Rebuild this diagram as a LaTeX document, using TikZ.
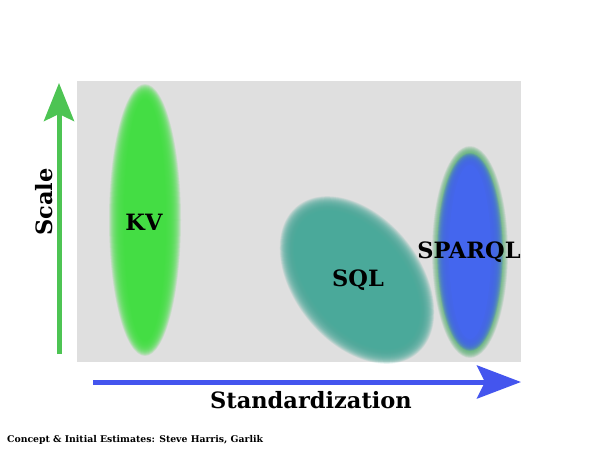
\documentclass[tikz,border=0pt]{standalone}
\usepackage{fontspec}
\setmainfont{DejaVu Serif}
\usepackage{xcolor}
\definecolor{PlotGray}{HTML}{DFDFDF}
\definecolor{KVGreen}{HTML}{44DD44}
\definecolor{SQLTeal}{HTML}{4AA99A}
\definecolor{SparqlBlue}{HTML}{4466EE}
\definecolor{SparqlRim}{HTML}{55B070}
\definecolor{ScaleGreen}{HTML}{4DC453}
\definecolor{StdBlue}{HTML}{4455EE}
\usepackage{tikz}
\usetikzlibrary{arrows.meta, positioning}

\begin{document}
\begin{tikzpicture}[
    x=1pt, y=-1pt,
    scale_arrow/.style={-{Stealth[length=38pt, width=30pt, inset=7pt]}, line width=5pt, ScaleGreen},
    std_arrow/.style={-{Stealth[length=44pt, width=33pt, inset=8pt]}, line width=5pt, StdBlue},
    blob_label/.style={font=\fontsize{22.5}{26}\selectfont\bfseries},
    axis_label/.style={font=\fontsize{22.5}{26}\selectfont\bfseries}
]
    \useasboundingbox (0,0) rectangle (600,450);

    % 1. PLOT AREA
    \fill[PlotGray] (77,81) rectangle (521,362);

    % 2. BLOBS (soft edges from stacked ellipses)
    \foreach \d in {20,19.5,...,0} {
        \fill[KVGreen, fill opacity=0.1] (145,220) ellipse [x radius={(36-\d)*1pt}, y radius={(136-\d)*1pt}];
    }
    \fill[KVGreen] (145,220) ellipse [x radius=16pt, y radius=116pt];

    \foreach \d in {22,21.5,...,0} {
        \fill[SQLTeal, fill opacity=0.1, rotate around={-51:(357,280)}] (357,280) ellipse [x radius={(95-\d)*1pt}, y radius={(63-\d)*1pt}];
    }
    \fill[SQLTeal, rotate around={-51:(357,280)}] (357,280) ellipse [x radius=73pt, y radius=41pt];

    \foreach \d in {16,15.5,...,0} {
        \fill[SparqlRim, fill opacity=0.1] (470,252) ellipse [x radius={(38-\d)*1pt}, y radius={(106-\d)*1pt}];
    }
    \foreach \d in {12,11.5,...,0} {
        \fill[SparqlBlue, fill opacity=0.15] (470,252) ellipse [x radius={(33-\d)*1pt}, y radius={(99-\d)*1pt}];
    }
    \fill[SparqlBlue] (470,252) ellipse [x radius=21pt, y radius=87pt];

    \node[blob_label] (kv) at (144,222) {KV};
    \node[blob_label] (sql) at (358,280) {SQL};
    \node[blob_label] (sparql) at (469,252) {SPARQL};

    % 3. AXES
    \coordinate (scale_start) at (59,354);
    \coordinate (scale_end) at (59,83);
    \coordinate (std_start) at (93,382);
    \coordinate (std_end) at (521,382);
    \draw[scale_arrow] (scale_start) -- (scale_end);
    \draw[std_arrow] (std_start) -- (std_end);

    \node[axis_label, rotate=90] (scale_lbl) at (44,202) {Scale};
    \node[axis_label] (std_lbl) at (311,400) {Standardization};

    % 4. CREDIT
    \node[anchor=west, font=\fontsize{9.3}{11}\selectfont\bfseries, inner sep=0pt] (credit) at (7,440) {Concept \& Initial Estimates: Steve Harris, Garlik};

\end{tikzpicture}
\end{document}
